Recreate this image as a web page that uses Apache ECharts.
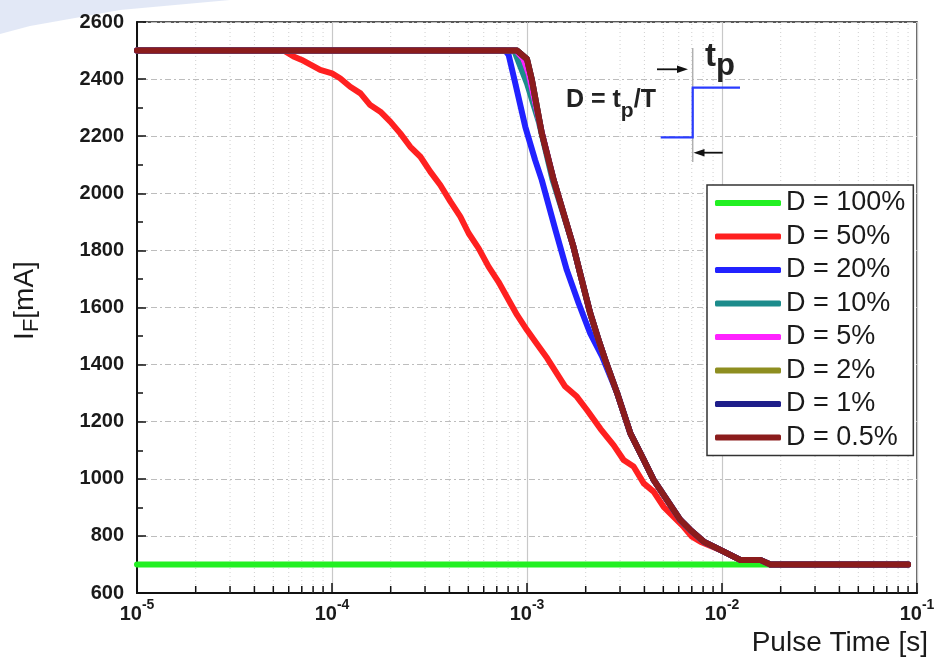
<!DOCTYPE html>
<html>
<head>
<meta charset="utf-8">
<script src="https://cdn.jsdelivr.net/npm/echarts@6/dist/echarts.min.js"></script>
<style>
html,body{margin:0;padding:0;background:#fff;}
#chart{width:940px;height:666px;}
</style>
</head>
<body>
<div id="chart"></div>
<script>
// ---- data (pulse time [s], forward current [mA]) ----
const t100 = [1e-5, 0.09];
const i100 = [700, 700];

const t50 = [1e-5, 5.65e-5, 6.35e-5, 7.0e-5, 8.7e-5, 1.0e-4, 1.10e-4, 1.24e-4, 1.40e-4, 1.57e-4,
  1.77e-4, 1.99e-4, 2.24e-4, 2.52e-4, 2.84e-4, 3.19e-4, 3.59e-4, 4.05e-4, 4.55e-4, 5.02e-4,
  5.65e-4, 6.35e-4, 7.14e-4, 8.05e-4, 8.89e-4, 1.0e-3, 1.12e-3, 1.27e-3,
  1.57e-3, 1.80e-3, 2.03e-3, 2.38e-3, 2.78e-3, 3.13e-3, 3.52e-3, 3.97e-3, 4.46e-3, 5.02e-3,
  5.65e-3, 6.35e-3, 7.02e-3, 7.75e-3, 9.8e-3, 1.24e-2, 1.57e-2, 1.77e-2, 0.09];
const i50 = [2500, 2500, 2479, 2467, 2432, 2420, 2403, 2373, 2350, 2309,
  2286, 2251, 2210, 2163, 2128, 2076, 2029, 1971, 1918, 1860,
  1807, 1743, 1690, 1626, 1574, 1521, 1474, 1422,
  1323, 1288, 1241, 1175, 1118, 1066, 1043, 984, 955, 902,
  867, 832, 797, 780, 751, 716, 716, 700, 700];

const t20 = [1e-5, 7.74e-4, 8.05e-4, 8.71e-4, 9.8e-4, 1.10e-3, 1.19e-3, 1.40e-3, 1.60e-3, 1.84e-3,
  2.11e-3, 2.43e-3, 2.90e-3, 3.39e-3, 3.97e-3, 4.46e-3, 5.22e-3, 6.11e-3, 6.88e-3, 8.05e-3,
  9.8e-3, 1.24e-2, 1.57e-2, 1.77e-2, 0.09];
const i20 = [2500, 2500, 2485, 2385, 2233, 2117, 2047, 1871, 1731, 1615,
  1509, 1428, 1300, 1159, 1066, 996, 926, 856, 821, 780,
  751, 716, 716, 700, 700];

const t10 = [1e-5, 8.6e-4, 9.3e-4, 1.0e-3, 1.15e-3, 1.35e-3, 1.54e-3, 1.73e-3, 1.91e-3, 2.11e-3,
  2.33e-3, 2.52e-3, 2.90e-3, 3.39e-3, 3.97e-3, 4.46e-3, 5.22e-3, 6.11e-3, 6.88e-3, 8.05e-3,
  9.8e-3, 1.24e-2, 1.57e-2, 1.77e-2, 0.09];
const i10 = [2500, 2500, 2440, 2385, 2250, 2050, 1925, 1813, 1696, 1580,
  1486, 1416, 1300, 1159, 1066, 996, 926, 856, 821, 780,
  751, 716, 716, 700, 700];

const t5 = [1e-5, 8.8e-4, 9.6e-4, 1.02e-3, 1.19e-3, 1.37e-3, 1.54e-3, 1.73e-3, 1.91e-3, 2.11e-3,
  2.33e-3, 2.52e-3, 2.90e-3, 3.39e-3, 3.97e-3, 4.46e-3, 5.22e-3, 6.11e-3, 6.88e-3, 8.05e-3,
  9.8e-3, 1.24e-2, 1.57e-2, 1.77e-2, 0.09];
const i5 = [2500, 2500, 2470, 2420, 2215, 2047, 1930, 1813, 1696, 1580,
  1486, 1416, 1300, 1159, 1066, 996, 926, 856, 821, 780,
  751, 716, 716, 700, 700];

const t2 = [1e-5, 8.89e-4, 1.0e-3, 1.06e-3, 1.19e-3, 1.37e-3, 1.54e-3, 1.73e-3, 1.91e-3, 2.11e-3,
  2.33e-3, 2.52e-3, 2.90e-3, 3.39e-3, 3.97e-3, 4.46e-3, 5.22e-3, 6.11e-3, 6.88e-3, 8.05e-3,
  9.8e-3, 1.24e-2, 1.57e-2, 1.77e-2, 0.09];
const i2 = [2500, 2500, 2470, 2397, 2211, 2047, 1930, 1813, 1696, 1580,
  1486, 1416, 1300, 1159, 1066, 996, 926, 856, 821, 780,
  751, 716, 716, 700, 700];

const t1 = [1e-5, 8.89e-4, 1.0e-3, 1.06e-3, 1.19e-3, 1.37e-3, 1.54e-3, 1.73e-3, 1.91e-3, 2.11e-3,
  2.33e-3, 2.52e-3, 2.90e-3, 3.39e-3, 3.97e-3, 4.46e-3, 5.22e-3, 6.11e-3, 6.88e-3, 8.05e-3,
  9.8e-3, 1.24e-2, 1.57e-2, 1.77e-2, 0.09];
const i1 = [2500, 2500, 2470, 2397, 2211, 2047, 1930, 1813, 1696, 1580,
  1486, 1416, 1300, 1159, 1066, 996, 926, 856, 821, 780,
  751, 716, 716, 700, 700];

const t05 = [1e-5, 8.89e-4, 1.0e-3, 1.06e-3, 1.19e-3, 1.37e-3, 1.54e-3, 1.73e-3, 1.91e-3, 2.11e-3,
  2.33e-3, 2.52e-3, 2.90e-3, 3.39e-3, 3.97e-3, 4.46e-3, 5.22e-3, 6.11e-3, 6.88e-3, 8.05e-3,
  9.8e-3, 1.24e-2, 1.57e-2, 1.77e-2, 0.09];
const i05 = [2500, 2500, 2470, 2397, 2211, 2047, 1930, 1813, 1696, 1580,
  1486, 1416, 1300, 1159, 1066, 996, 926, 856, 821, 780,
  751, 716, 716, 700, 700];

const seriesNames = ['D = 100%', 'D = 50%', 'D = 20%', 'D = 10%', 'D = 5%', 'D = 2%', 'D = 1%', 'D = 0.5%'];
const seriesColors = ['#22f022', '#ff2020', '#2222ff', '#1c8c8c', '#ff22ff', '#8e8e20', '#1e1e8a', '#8b1c1c'];
const seriesT = [t100, t50, t20, t10, t5, t2, t1, t05];
const seriesI = [i100, i50, i20, i10, i5, i2, i1, i05];

// axis ranges and minor tick positions
const xMin = 1e-5, xMax = 1e-1;
const yMin = 600, yMax = 2600, yStep = 200;
const minorXTicks = [
  2e-5, 3e-5, 4e-5, 5e-5, 6e-5, 7e-5, 8e-5, 9e-5,
  2e-4, 3e-4, 4e-4, 5e-4, 6e-4, 7e-4, 8e-4, 9e-4,
  2e-3, 3e-3, 4e-3, 5e-3, 6e-3, 7e-3, 8e-3, 9e-3,
  2e-2, 3e-2, 4e-2, 5e-2, 6e-2, 7e-2, 8e-2, 9e-2
];

const FONT = '"Liberation Sans", Arial, sans-serif';

const chart = echarts.init(document.getElementById('chart'), null, {renderer: 'canvas'});

const lineSeries = seriesNames.map((name, k) => ({
  name: name,
  type: 'line',
  data: seriesT[k].map((t, j) => [t, seriesI[k][j]]),
  showSymbol: false,
  symbol: 'none',
  color: seriesColors[k],
  lineStyle: {width: 6, color: seriesColors[k], cap: 'round', join: 'round'},
  z: 3 + k,
  silent: true,
  animation: false
}));

const minorSeries = {
  type: 'custom',
  name: 'minor',
  silent: true,
  z: 1,
  data: minorXTicks.map(v => [v, yMin]),
  encode: {x: 0, y: 1},
  renderItem: function (params, api) {
    const v = api.value(0);
    const p0 = api.coord([v, yMin]);
    const p1 = api.coord([v, yMax]);
    return {
      type: 'group',
      children: [
        {type: 'line', shape: {x1: p0[0], y1: p0[1], x2: p1[0], y2: p1[1]},
          style: {stroke: '#cfcfcf', lineWidth: 1, lineDash: [1, 3]}},
        {type: 'line', shape: {x1: p0[0], y1: p0[1], x2: p0[0], y2: p0[1] - 7},
          style: {stroke: '#111', lineWidth: 1.5}}
      ]
    };
  }
};

const option = {
  animation: false,
  backgroundColor: '#ffffff',
  grid: {left: 137, right: 23, top: 22, bottom: 73, show: true, borderColor: '#222', borderWidth: 1.5, backgroundColor: 'transparent'},
  xAxis: {
    type: 'log', logBase: 10, min: xMin, max: xMax,
    name: 'Pulse Time [s]',
    nameLocation: 'end',
    nameGap: 11,
    nameTextStyle: {fontFamily: FONT, fontSize: 28, color: '#1a1a1a', align: 'right', verticalAlign: 'top', padding: [36, 0, 0, 0]},
    axisLine: {show: true, lineStyle: {color: '#111', width: 2}},
    axisTick: {show: true, inside: true, length: 10, lineStyle: {color: '#111', width: 1.5}},
    minorTick: {show: false},
    splitLine: {show: true, lineStyle: {color: '#c8c8c8', width: 1.2, type: 'solid'}},
    axisLabel: {
      margin: 5,
      showMinLabel: true, showMaxLabel: true,
      formatter: function (v) { return '{b|10}{s|' + Math.round(Math.log10(v)) + '}'; },
      rich: {
        b: {fontFamily: FONT, fontWeight: 'bold', fontSize: 20, color: '#1a1a1a', lineHeight: 26, verticalAlign: 'bottom'},
        s: {fontFamily: FONT, fontWeight: 'bold', fontSize: 14, color: '#1a1a1a', lineHeight: 26, verticalAlign: 'top'}
      }
    }
  },
  yAxis: {
    type: 'value', min: yMin, max: yMax, interval: yStep,
    name: '{a|I}{sub|F}{a|[mA]}',
    nameLocation: 'middle',
    nameGap: 94,
    nameRotate: 90,
    nameTextStyle: {
      padding: [0, 0, 0, 14],
      rich: {
        a: {fontFamily: FONT, fontSize: 28, color: '#1a1a1a', lineHeight: 36, verticalAlign: 'middle'},
        sub: {fontFamily: FONT, fontSize: 22, color: '#1a1a1a', lineHeight: 36, verticalAlign: 'bottom', padding: [10, 0, 0, 0]}
      }
    },
    axisLine: {show: true, lineStyle: {color: '#111', width: 2}},
    axisTick: {show: true, inside: true, length: 9, lineStyle: {color: '#111', width: 1.5}},
    minorTick: {show: true, splitNumber: 2, length: 6, lineStyle: {color: '#111', width: 1.5}},
    splitLine: {show: true, lineStyle: {color: '#bdbdbd', width: 1.2, type: [6, 3, 2, 3]}},
    axisLabel: {margin: 13, fontFamily: FONT, fontWeight: 'bold', fontSize: 20, color: '#1a1a1a',
      formatter: function (v) { return String(v); }}
  },
  legend: {
    data: seriesNames.map((n, k) => ({name: n, itemStyle: {color: seriesColors[k]}})),
    orient: 'vertical',
    left: 707, top: 185,
    padding: [3, 8, 3, 8],
    itemGap: 3.5,
    itemWidth: 66,
    itemHeight: 6,
    itemStyle: {borderWidth: 0},
    icon: 'roundRect',
    backgroundColor: '#ffffff',
    borderColor: '#333',
    borderWidth: 1.5,
    borderRadius: 0,
    selectedMode: false,
    textStyle: {fontFamily: FONT, fontSize: 27, color: '#1a1a1a', lineHeight: 30}
  },
  graphic: [
    // faint background swoosh top-left
    {type: 'polygon', silent: true, z: -10,
      shape: {points: [[0, 0], [230, 0], [120, 10], [30, 26], [0, 34]]},
      style: {fill: 'rgba(190,205,235,0.45)'}},
    // inset: gray reference line
    {type: 'line', silent: true, z: 50, shape: {x1: 692.7, y1: 48, x2: 692.7, y2: 162}, style: {stroke: '#b0b0b0', lineWidth: 1.5}},
    // inset: blue pulse
    {type: 'polyline', silent: true, z: 51, shape: {points: [[660.7, 137.3], [692.7, 137.3], [692.7, 87.7], [740, 87.7]]},
      style: {stroke: '#2a3cff', lineWidth: 2.2, fill: null}},
    // top arrow (pointing right)
    {type: 'line', silent: true, z: 51, shape: {x1: 657, y1: 69.3, x2: 680, y2: 69.3}, style: {stroke: '#111', lineWidth: 1.8}},
    {type: 'polygon', silent: true, z: 51, shape: {points: [[688, 69.3], [677, 65.5], [677, 73.1]]}, style: {fill: '#111'}},
    // bottom arrow (pointing left)
    {type: 'line', silent: true, z: 51, shape: {x1: 700, y1: 152.7, x2: 722.7, y2: 152.7}, style: {stroke: '#111', lineWidth: 1.8}},
    {type: 'polygon', silent: true, z: 51, shape: {points: [[693.5, 152.7], [704.5, 148.9], [704.5, 156.5]]}, style: {fill: '#111'}},
    // D = tp/T
    {type: 'text', silent: true, z: 52, left: 566, top: 88,
      style: {
        text: '{a|D = t}{s|p}{a|/T}',
        rich: {
          a: {fontFamily: FONT, fontWeight: 'bold', fontSize: 25, fill: '#222', lineHeight: 34, verticalAlign: 'top'},
          s: {fontFamily: FONT, fontWeight: 'bold', fontSize: 21, fill: '#222', lineHeight: 34, verticalAlign: 'bottom'}
        }
      }},
    // tp
    {type: 'text', silent: true, z: 52, left: 705, top: 40,
      style: {
        text: '{a|t}{s|p}',
        rich: {
          a: {fontFamily: FONT, fontWeight: 'bold', fontSize: 33, fill: '#222', lineHeight: 42, verticalAlign: 'top'},
          s: {fontFamily: FONT, fontWeight: 'bold', fontSize: 31, fill: '#222', lineHeight: 42, verticalAlign: 'bottom'}
        }
      }}
  ],
  series: [minorSeries].concat(lineSeries)
};

chart.setOption(option);
</script>
</body>
</html>
